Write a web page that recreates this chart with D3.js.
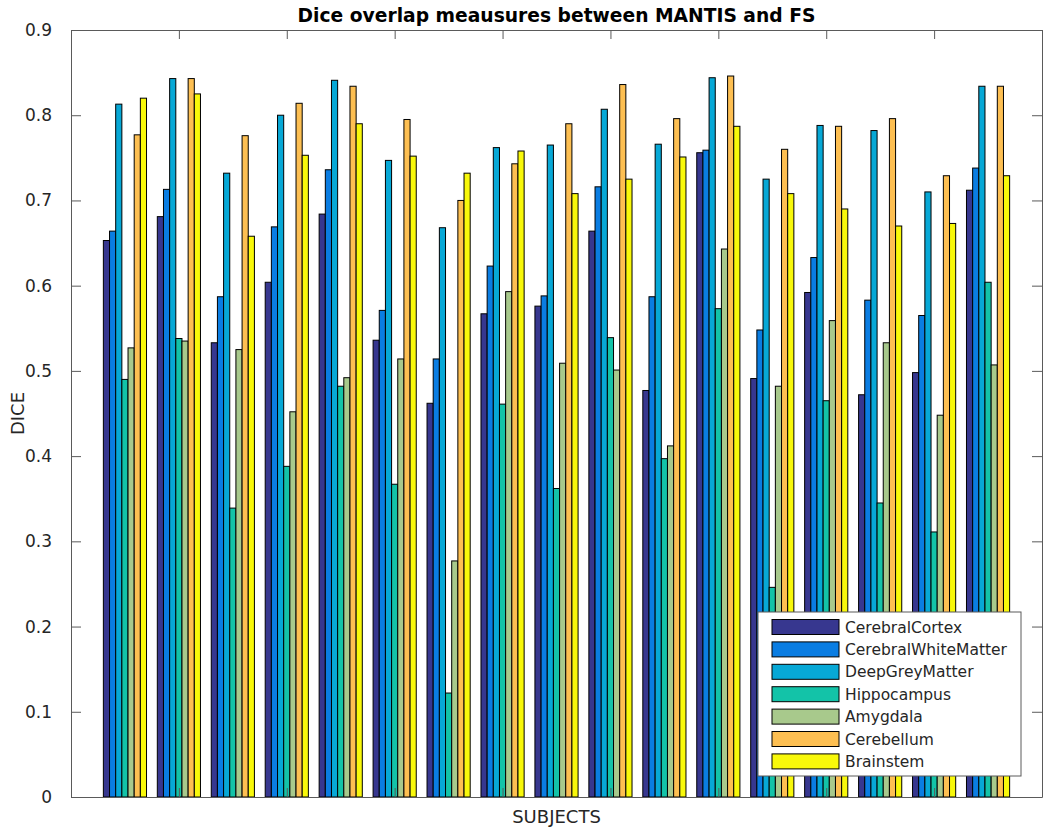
<!DOCTYPE html>
<html>
<head>
<meta charset="utf-8">
<script src="https://cdn.jsdelivr.net/npm/d3@7"></script>
<style>
  body { margin: 0; background: #fff; }
  svg { display: block; font-family: "DejaVu Sans", sans-serif; }
</style>
</head>
<body>
<svg id="chart" width="1050" height="833"></svg>
<script>
const subjects = d3.range(1, 18);
const seriesNames = ["CerebralCortex", "CerebralWhiteMatter", "DeepGreyMatter", "Hippocampus", "Amygdala", "Cerebellum", "Brainstem"];
const seriesColors = ["#37378f", "#0a7de2", "#07a8d6", "#13c3a8", "#a8c98c", "#fdbf52", "#f8f80a"];

const cerebralCortex      = [0.653, 0.681, 0.533, 0.604, 0.684, 0.536, 0.462, 0.567, 0.576, 0.664, 0.477, 0.756, 0.491, 0.592, 0.472, 0.498, 0.712];
const cerebralWhiteMatter = [0.664, 0.713, 0.587, 0.669, 0.736, 0.571, 0.514, 0.623, 0.588, 0.716, 0.587, 0.759, 0.548, 0.633, 0.583, 0.565, 0.738];
const deepGreyMatter      = [0.813, 0.843, 0.732, 0.800, 0.841, 0.747, 0.668, 0.762, 0.765, 0.807, 0.766, 0.844, 0.725, 0.788, 0.782, 0.710, 0.834];
const hippocampus         = [0.490, 0.538, 0.339, 0.388, 0.482, 0.367, 0.122, 0.461, 0.362, 0.539, 0.397, 0.573, 0.246, 0.465, 0.345, 0.311, 0.604];
const amygdala            = [0.527, 0.535, 0.525, 0.452, 0.492, 0.514, 0.277, 0.593, 0.509, 0.501, 0.412, 0.643, 0.482, 0.559, 0.533, 0.448, 0.507];
const cerebellum          = [0.777, 0.843, 0.776, 0.814, 0.834, 0.795, 0.700, 0.743, 0.790, 0.836, 0.796, 0.846, 0.760, 0.787, 0.796, 0.729, 0.834];
const brainstem           = [0.820, 0.825, 0.658, 0.753, 0.790, 0.752, 0.732, 0.758, 0.708, 0.725, 0.751, 0.787, 0.708, 0.690, 0.670, 0.673, 0.729];
const seriesValues = [cerebralCortex, cerebralWhiteMatter, deepGreyMatter, hippocampus, amygdala, cerebellum, brainstem];

const yTicks = [0, 0.1, 0.2, 0.3, 0.4, 0.5, 0.6, 0.7, 0.8, 0.9];
const xTicks = [0, 2, 4, 6, 8, 10, 12, 14, 16, 18];

(function () {
const svg = d3.select("#chart");
const mLeft = 71, mRight = 1042, mTop = 30, mBottom = 797;
const axisColor = "#5a5a5a";
const textColor = "#262626";

const x = d3.scaleLinear().domain([0, 18]).range([mLeft, mRight]);
const y = d3.scaleLinear().domain([0, 0.9]).range([mBottom, mTop]);
const inner = d3.scaleBand().domain(seriesNames).range([-0.4, 0.4]).padding(0);
const barW = x(inner.bandwidth()) - x(0);

// bars
seriesNames.forEach((name, si) => {
  svg.append("g")
    .selectAll("rect")
    .data(seriesValues[si])
    .join("rect")
    .attr("x", (d, i) => x(subjects[i] + inner(name)))
    .attr("y", d => y(d))
    .attr("width", barW)
    .attr("height", d => y(0) - y(d))
    .attr("fill", seriesColors[si])
    .attr("stroke", "#000")
    .attr("stroke-width", 1);
});

// axes (MATLAB-style box with inward ticks)
const axL = svg.append("g").attr("transform", `translate(${mLeft},0)`)
  .call(d3.axisLeft(y).tickValues(yTicks).tickSizeInner(-10).tickSizeOuter(0).tickPadding(19).tickFormat(d3.format("")));
const axR = svg.append("g").attr("transform", `translate(${mRight},0)`)
  .call(d3.axisRight(y).tickValues(yTicks).tickSizeInner(-10).tickSizeOuter(0).tickFormat(""));
const axT = svg.append("g").attr("transform", `translate(0,${mTop})`)
  .call(d3.axisTop(x).tickValues(xTicks).tickSizeInner(-9).tickSizeOuter(0).tickFormat(""));
const axB = svg.append("g").attr("transform", `translate(0,${mBottom})`)
  .call(d3.axisBottom(x).tickValues(xTicks).tickSizeInner(-9).tickSizeOuter(0).tickFormat(""));
[axL, axR, axT, axB].forEach(g => {
  g.selectAll("path, line").attr("stroke", axisColor).attr("stroke-width", 1);
});
axL.selectAll("text").attr("font-size", 17).attr("fill", textColor).attr("font-family", "DejaVu Sans");

// title & labels
svg.append("text").attr("x", (mLeft + mRight) / 2).attr("y", 22)
  .attr("text-anchor", "middle").attr("font-size", 18.7).attr("font-weight", "bold").attr("fill", "#000")
  .text("Dice overlap meausures between MANTIS and FS");
svg.append("text").attr("x", (mLeft + mRight) / 2).attr("y", 823)
  .attr("text-anchor", "middle").attr("font-size", 18).attr("fill", textColor)
  .text("SUBJECTS");
svg.append("text").attr("transform", `translate(24,${(mTop + mBottom) / 2}) rotate(-90)`)
  .attr("text-anchor", "middle").attr("font-size", 18).attr("fill", textColor)
  .text("DICE");

// legend
const lg = svg.append("g");
lg.append("rect").attr("x", 758).attr("y", 612).attr("width", 263).attr("height", 164)
  .attr("fill", "#fff").attr("stroke", axisColor).attr("stroke-width", 1);
seriesNames.forEach((name, i) => {
  const cy = 627 + i * 22.4;
  lg.append("rect").attr("x", 772).attr("y", cy - 7.5).attr("width", 67).attr("height", 15)
    .attr("fill", seriesColors[i]).attr("stroke", "#000").attr("stroke-width", 1);
  lg.append("text").attr("x", 845).attr("y", cy).attr("dy", "0.36em")
    .attr("font-size", 15.5).attr("fill", textColor).text(name);
});
})();
</script>
</body>
</html>
